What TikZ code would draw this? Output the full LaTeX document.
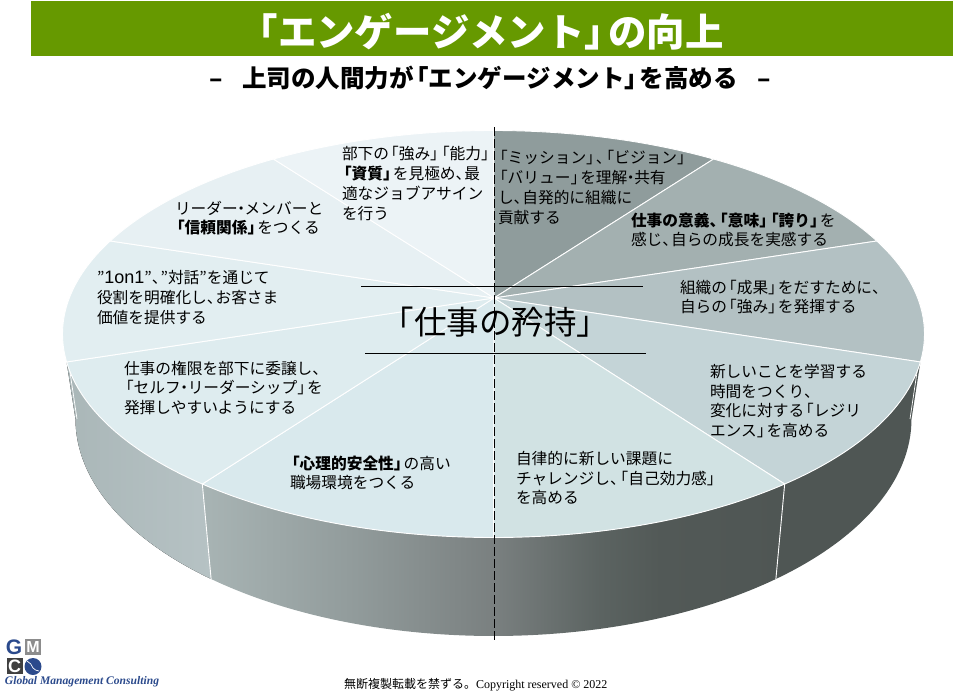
\documentclass[tikz,border=0pt]{standalone}
\usepackage{fontspec}
\setmainfont{Noto Sans CJK JP}
\newfontfamily\latinfont{Liberation Serif}
\newfontfamily\logofont{Liberation Sans}
\catcode`「=\active \protected\def「{\hbox{\kern-.38em\char"300C}}
\catcode`」=\active \protected\def」{\hbox{\char"300D\kern-.38em}}
\catcode`、=\active \protected\def、{\hbox{\char"3001\kern-.45em}}
\catcode`・=\active \protected\def・{\hbox{\kern-.28em\char"30FB\kern-.28em}}
\pgfdeclarehorizontalshading{sidemid}{100bp}{rgb(0bp)=(.659,.706,.706);
  rgb(25bp)=(.659,.706,.706); rgb(37.6bp)=(.573,.612,.612);
  rgb(50bp)=(.478,.502,.502); rgb(59.2bp)=(.357,.388,.38);
  rgb(64.3bp)=(.322,.349,.341); rgb(75bp)=(.31,.337,.329);
  rgb(100bp)=(.31,.337,.329)}
\definecolor{band}{HTML}{669900}
\definecolor{sideleftA}{HTML}{AAB7B8}
\definecolor{sideleftB}{HTML}{B6C2C4}
\definecolor{sidedark}{HTML}{4F5654}
\definecolor{logoblue}{HTML}{2B4A8C}
\begin{document}
\begin{tikzpicture}[x=1pt,y=-1pt,
      every node/.style = {inner sep=0pt, outer sep=0pt},
      slice/.style = {draw=white, line width=.9pt, line join=round},
      topx/.style = {x radius=431pt, y radius=203.5pt},
      botx/.style = {x radius=418pt, y radius=217pt},
      lbl/.style = {anchor=west, align=left, text=black,
        font=\fontsize{15.7}{19.7}\selectfont},
      rule/.style = {black, line width=.9pt},
      logobox/.style = {minimum width=16pt, minimum height=16pt, font=\logofont\bfseries\fontsize{16}{16}\selectfont}]
      \useasboundingbox (0,0) rectangle (967,696);
      \fill[band] (31,1) rectangle (953,56);
      \node[white, font=\bfseries\fontsize{38.4}{38.4}\selectfont] (title) at (489,32) {「エンゲージメント」の向上};
      \node[font=\bfseries\fontsize{24.5}{24.5}\selectfont] (subtitle) at (490,78)
        {–\hspace{.8em}上司の人間力が「エンゲージメント」を高める\hspace{.8em}–};
      \fill[left color=sideleftA, right color=sideleftB]
        ({493.5+431*cos(-172.1)},{334-203.5*sin(-172.1)}) -- (75.5,419)
        arc[start angle=180, end angle=227.5, botx]
        -- ({493.5+431*cos(-132.5)},{334-203.5*sin(-132.5)})
        arc[start angle=-132.5, end angle=-172.1, topx] -- cycle;
      \shade[shading=sidemid]
        ({493.5+431*cos(-132.5)},{334-203.5*sin(-132.5)}) -- ({493.5+418*cos(-132.5)},{419-217*sin(-132.5)})
        arc[start angle=-132.5, end angle=-47.5, botx]
        -- ({493.5+431*cos(-47.5)},{334-203.5*sin(-47.5)})
        arc[start angle=-47.5, end angle=-132.5, topx] -- cycle;
      \fill[sidedark]
        ({493.5+431*cos(-47.5)},{334-203.5*sin(-47.5)})
        arc[start angle=-47.5, end angle=-7.9, topx] -- (911.5,419)
        arc[start angle=0, end angle=-47.5, botx] -- cycle;
      \foreach \a in {-132.5,-47.5}
        \draw[white, line width=.9pt] ({493.5+431*cos(\a)},{334-203.5*sin(\a)}) -- ({493.5+418*cos(\a)},{419-217*sin(\a)});
      \draw[white, line width=.7pt] (68.5,362) -- (77,419);
      \draw[white, line width=.7pt] (918.5,362) -- (910,419);
      \foreach \a/\b/\c in {90/59.3/8F9C9C, 59.3/27.2/A3B0B0, 27.2/-7.9/B3C1C3, -7.9/-47.5/C4D4D7,
          -47.5/-90/D1E2E3, -90/-132.5/D9E9ED, -132.5/-172.1/DEECEF, 187.9/152.8/E2EEF1,
          152.8/120.7/E7F0F3, 120.7/90/ECF3F6} {
        \definecolor{slicecol}{HTML}{\c}
        \draw[slice, fill=slicecol] (494,298) -- ({493.5+431*cos(\a)},{334-203.5*sin(\a)})
          arc[start angle=\a, end angle=\b, topx] -- cycle;
      }
      \draw[black, line width=.9pt, dash pattern=on 9pt off 3pt] (494,127) -- (494,640);
      \draw[rule] (361,286.5) -- (643,286.5);
      \draw[rule] (365,353.5) -- (646,353.5);
      \node[font=\fontsize{32.5}{32.5}\selectfont, text=black] (center) at (495.5,322) {\kern.38em「仕事の矜持」\kern.38em};
      \node[lbl] (ability) at (342,183.5) {部下の「強み」「能力」\\\textbf{「資質」}を見極め、最\\適なジョブアサイン\\を行う};
      \node[lbl] (trust) at (175,218) {リーダー・メンバーと\\\textbf{「信頼関係」}をつくる};
      \node[lbl] (dialog) at (97,297.5) {”{\logofont\fontsize{18}{19.7}\selectfont 1on1}”、”対話”を通じて\\役割を明確化し、お客さま\\価値を提供する};
      \node[lbl] (delegate) at (124,388) {仕事の権限を部下に委譲し、\\「セルフ・リーダーシップ」を\\発揮しやすいようにする};
      \node[lbl] (safety) at (290,473) {\textbf{「心理的安全性」}の高い\\職場環境をつくる};
      \node[lbl] (efficacy) at (516,478) {自律的に新しい課題に\\チャレンジし、「自己効力感」\\を高める};
      \node[lbl] (resilience) at (710,401) {新しいことを学習する\\時間をつくり、\\変化に対する「レジリ\\エンス」を高める};
      \node[lbl] (result) at (680,297) {組織の「成果」をだすために、\\自らの「強み」を発揮する};
      \node[lbl] (meaning) at (631,230) {\textbf{仕事の意義、「意味」「誇り」}を\\感じ、自らの成長を実感する};
      \node[lbl] (mission) at (498,187.5) {「ミッション」、「ビジョン」\\「バリュー」を理解・共有\\し、自発的に組織に\\貢献する};
      \node[logobox, text=logoblue, font=\logofont\bfseries\fontsize{21}{21}\selectfont] (logog) at (14,647) {G};
      \node[logobox, fill=black!45, text=white] (logom) at (33,647) {M};
      \node[logobox, fill=black!75, text=white, font=\logofont\bfseries\fontsize{18}{18}\selectfont] (logoc) at (14.5,666) {C};
      \node[circle, fill=logoblue, minimum size=17pt] (logoglobe) at (33,666.5) {};
      \draw[white, line width=.7pt] (27,661) to[bend left=20] (33,668) to[bend right=20] (39,671);
      \node[anchor=west, text=logoblue, font=\latinfont\bfseries\itshape\fontsize{11.6}{11.6}\selectfont] (logotext) at (5,682) {Global Management Consulting};
      \node[anchor=west, font=\fontsize{12}{12}\selectfont] (copy) at (344,685)
        {無断複製転載を禁ずる。{\latinfont Copyright reserved © 2022}};
  \end{tikzpicture}
\end{document}
